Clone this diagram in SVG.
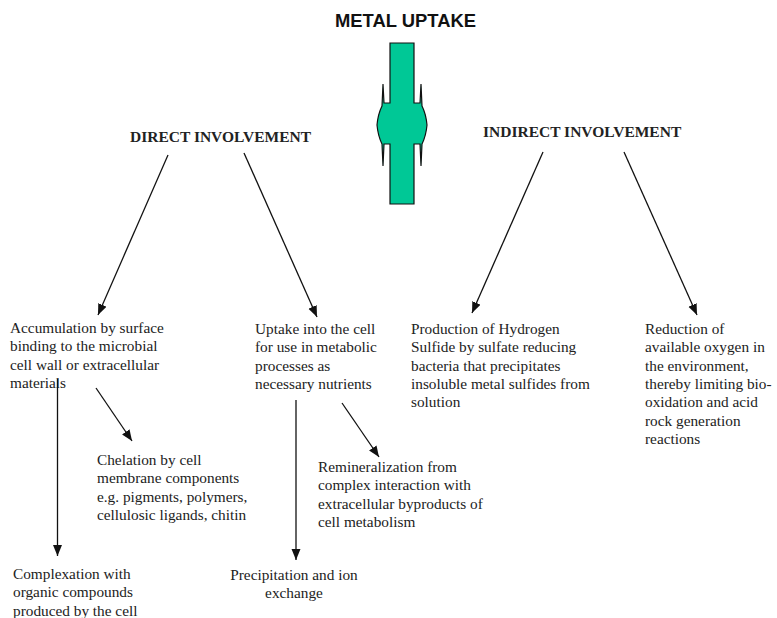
<svg xmlns="http://www.w3.org/2000/svg" width="777" height="618" viewBox="0 0 777 618">
<defs>
<marker id="ah" markerUnits="userSpaceOnUse" markerWidth="12" markerHeight="10" refX="11" refY="4.5" orient="auto">
<path d="M0,0 L11,4.5 L0,9 Z" fill="#111"/>
</marker>
<style>
.t{font-family:"Liberation Serif","Times New Roman",serif;font-size:15.3px;fill:#222}
.h{font-family:"Liberation Serif","Times New Roman",serif;font-size:15.5px;font-weight:bold;fill:#222}
.c{stroke:#111;stroke-width:1.3;fill:none;marker-end:url(#ah)}
</style>
</defs>
<rect width="777" height="618" fill="#fff"/>
<g id="title">
<text x="335" y="26.5" textLength="141" lengthAdjust="spacingAndGlyphs" style="font-family:'Liberation Sans',Arial,sans-serif;font-size:18.5px;font-weight:bold;fill:#111">METAL UPTAKE</text>
</g>
<g id="bigarrow">
<path d="M390,43 H414 V103 H420 L421,84 L422,106 Q426,114 427,125 Q426,136 422,144 L421,166 L420,144 H414 V204 H390 V144 H384 L383,166 L382,144 Q378,136 377,125 Q378,114 382,106 L383,84 L384,103 H390 Z" fill="#00C896" stroke="#111" stroke-width="1.2" stroke-linejoin="miter"/>
</g>
<g id="direct"><text class="h" x="130" y="142">DIRECT INVOLVEMENT</text></g>
<g id="indirect"><text class="h" x="483" y="137">INDIRECT INVOLVEMENT</text></g>
<g id="accumulation"><text class="t" x="10" y="333"><tspan x="10">Accumulation by surface</tspan><tspan x="10" dy="18.3">binding to the microbial</tspan><tspan x="10" dy="18.3">cell wall or extracellular</tspan><tspan x="10" dy="18.3">materials</tspan></text></g>
<g id="uptake"><text class="t" x="255" y="334"><tspan x="255">Uptake into the cell</tspan><tspan x="255" dy="18.3">for use in metabolic</tspan><tspan x="255" dy="18.3">processes as</tspan><tspan x="255" dy="18.3">necessary nutrients</tspan></text></g>
<g id="hydrogen"><text class="t" x="411" y="334"><tspan x="411">Production of Hydrogen</tspan><tspan x="411" dy="18.3">Sulfide by sulfate reducing</tspan><tspan x="411" dy="18.3">bacteria that precipitates</tspan><tspan x="411" dy="18.3">insoluble metal sulfides from</tspan><tspan x="411" dy="18.3">solution</tspan></text></g>
<g id="oxygen"><text class="t" x="645" y="334"><tspan x="645">Reduction of</tspan><tspan x="645" dy="18.3">available oxygen in</tspan><tspan x="645" dy="18.3">the environment,</tspan><tspan x="645" dy="18.3">thereby limiting bio-</tspan><tspan x="645" dy="18.3">oxidation and acid</tspan><tspan x="645" dy="18.3">rock generation</tspan><tspan x="645" dy="18.3">reactions</tspan></text></g>
<g id="chelation"><text class="t" x="97" y="465"><tspan x="97">Chelation by cell</tspan><tspan x="97" dy="18.3">membrane components</tspan><tspan x="97" dy="18.3">e.g. pigments, polymers,</tspan><tspan x="97" dy="18.3">cellulosic ligands, chitin</tspan></text></g>
<g id="remineralization"><text class="t" x="318" y="472"><tspan x="318">Remineralization from</tspan><tspan x="318" dy="18.3">complex interaction with</tspan><tspan x="318" dy="18.3">extracellular byproducts of</tspan><tspan x="318" dy="18.3">cell metabolism</tspan></text></g>
<g id="complexation"><text class="t" x="13" y="579"><tspan x="13">Complexation with</tspan><tspan x="13" dy="18.3">organic compounds</tspan><tspan x="13" dy="18.3">produced by the cell</tspan></text></g>
<g id="precipitation"><text class="t" y="580" text-anchor="middle"><tspan x="294">Precipitation and ion</tspan><tspan x="294" dy="18.3">exchange</tspan></text></g>
<g id="connectors">
<line class="c" x1="168" y1="155" x2="98" y2="315"/>
<line class="c" x1="244" y1="153" x2="317" y2="317"/>
<line class="c" x1="543" y1="152" x2="472" y2="313"/>
<line class="c" x1="624" y1="152" x2="697" y2="315"/>
<line class="c" x1="57.5" y1="379" x2="57.5" y2="556"/>
<line class="c" x1="96" y1="388" x2="132" y2="441"/>
<line class="c" x1="296" y1="400" x2="296" y2="560"/>
<line class="c" x1="342" y1="403" x2="379" y2="457"/>
</g>
</svg>
